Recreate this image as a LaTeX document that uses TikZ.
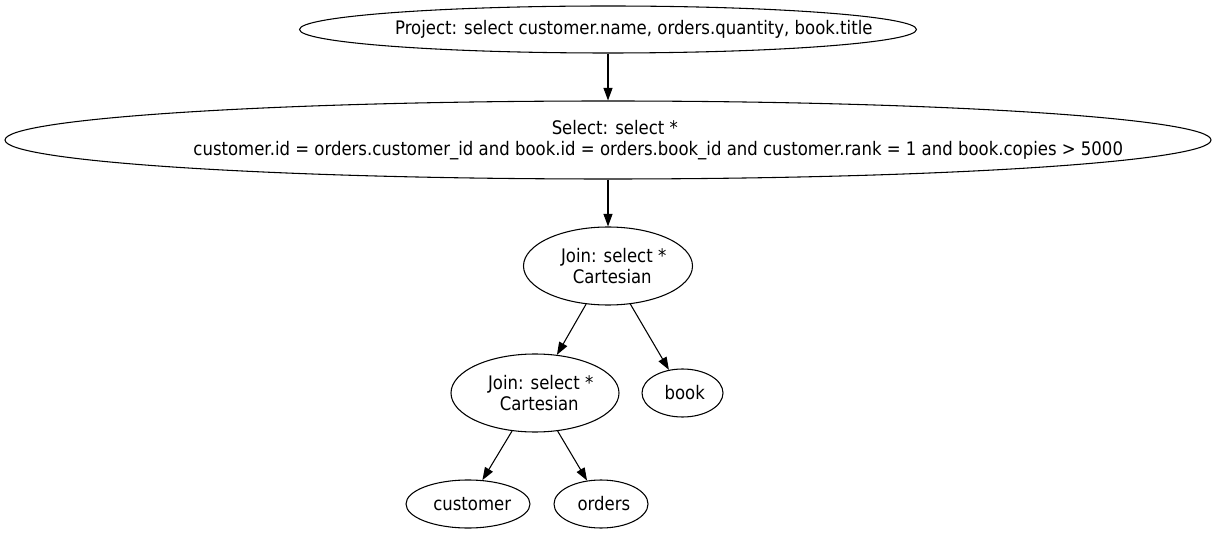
\documentclass[tikz,border=0pt]{standalone}
\usepackage{fontspec}
\setmainfont{DejaVu Sans}[FakeStretch=0.885]
\usetikzlibrary{shapes.geometric,arrows.meta}

% one label line, set from a left start as the layout estimated it
\newsavebox\gvbox
\newcommand{\gvline}[1]{\sbox\gvbox{#1}\makebox[0pt][l]{\hspace{-0.446\wd\gvbox}\usebox\gvbox}}

\begin{document}
\begin{tikzpicture}[x=0.75pt,y=-0.75pt,
  opnode/.style={draw, ellipse, line width=0.8pt, inner xsep=-400pt, inner ysep=0pt, align=center, font=\fontsize{14}{16}\selectfont},
  ell/.style 2 args={minimum width=#1*0.75pt, minimum height=#2*0.75pt},
  flow/.style={-{Triangle[length=9.5pt,width=6.8pt]}, line width=0.8pt}]
%set diagram size
\useasboundingbox (0,0) rectangle (1216,534);

%Shape: Ellipse (project)
\node [opnode, ell={617}{47}] (project) at (608,29.5) {\gvline{Project: select customer.name, orders.quantity, book.title}};
%Shape: Ellipse (select)
\node [opnode, ell={1206}{78}] (select) at (608,140) {\gvline{Select: select *}\\\gvline{customer.id = orders.customer\_id and book.id = orders.book\_id and customer.rank = 1 and book.copies > 5000}};
%Shape: Ellipse (joins)
\node [opnode, ell={169}{78}] (join1) at (608,266) {\gvline{Join: select *}\\\gvline{Cartesian}};
\node [opnode, ell={168}{78}] (join2) at (535,393) {\gvline{Join: select *}\\\gvline{Cartesian}};
%Shape: Ellipse (tables)
\node [opnode, ell={81}{48}] (book) at (682.5,393) {\gvline{book}};
\node [opnode, ell={124}{48}] (customer) at (468,504) {\gvline{customer}};
\node [opnode, ell={94}{48}] (orders) at (601,504) {\gvline{orders}};

%Straight Lines
\draw [flow] (project) -- (select);
\draw [flow] (select) -- (join1);
\draw [flow] (join1) -- (join2);
\draw [flow] (join1) -- (book);
\draw [flow] (join2) -- (customer);
\draw [flow] (join2) -- (orders);

\end{tikzpicture}
\end{document}
